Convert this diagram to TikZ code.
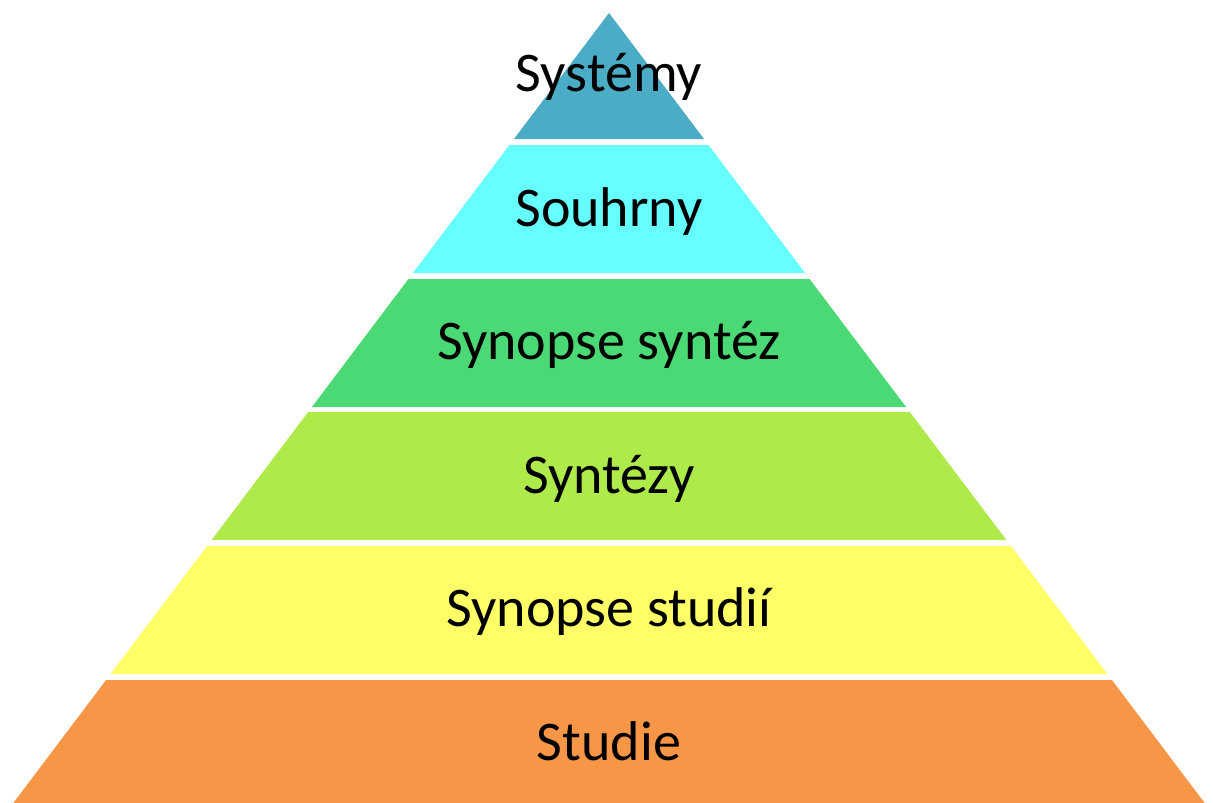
\documentclass[tikz,border=0pt]{standalone}
\usepackage{fontspec}
\setmainfont{Carlito}
\definecolor{cTeal}{HTML}{4BACC6}
\definecolor{cCyan}{HTML}{66FFFF}
\definecolor{cGreen}{HTML}{4AD975}
\definecolor{cLime}{HTML}{ADEA4A}
\definecolor{cYellow}{HTML}{FFFF66}
\definecolor{cOrange}{HTML}{F79646}
\tikzset{
  layertext/.style={anchor=base, inner sep=0pt, font=\fontsize{56}{62}\selectfont, text=black}
}
\begin{document}
\begin{tikzpicture}[x=1pt,y=-1pt]
\useasboundingbox (0,0) rectangle (1213,803);
% apex (609,13), slope 0.754
\fill[cTeal] (609,13) -- ({609-0.754*126},139) -- ({609+0.754*126},139) -- cycle;
\foreach \t/\b/\c in {145/273/cCyan, 279/407/cGreen, 412/540/cLime, 546/674/cYellow, 680/803/cOrange}{
  \fill[\c] ({609-0.754*(\t-13)},\t) -- ({609+0.754*(\t-13)},\t) -- ({609+0.754*(\b-13)},\b) -- ({609-0.754*(\b-13)},\b) -- cycle;
}
\node[layertext] (l1) at (609,91) {Systémy};
\node[layertext] (l2) at (609,226) {Souhrny};
\node[layertext] (l3) at (609,359) {Synopse syntéz};
\node[layertext] (l4) at (609,493) {Syntézy};
\node[layertext] (l5) at (609,626) {Synopse studií};
\node[layertext] (l6) at (609,760) {Studie};
\end{tikzpicture}
\end{document}
